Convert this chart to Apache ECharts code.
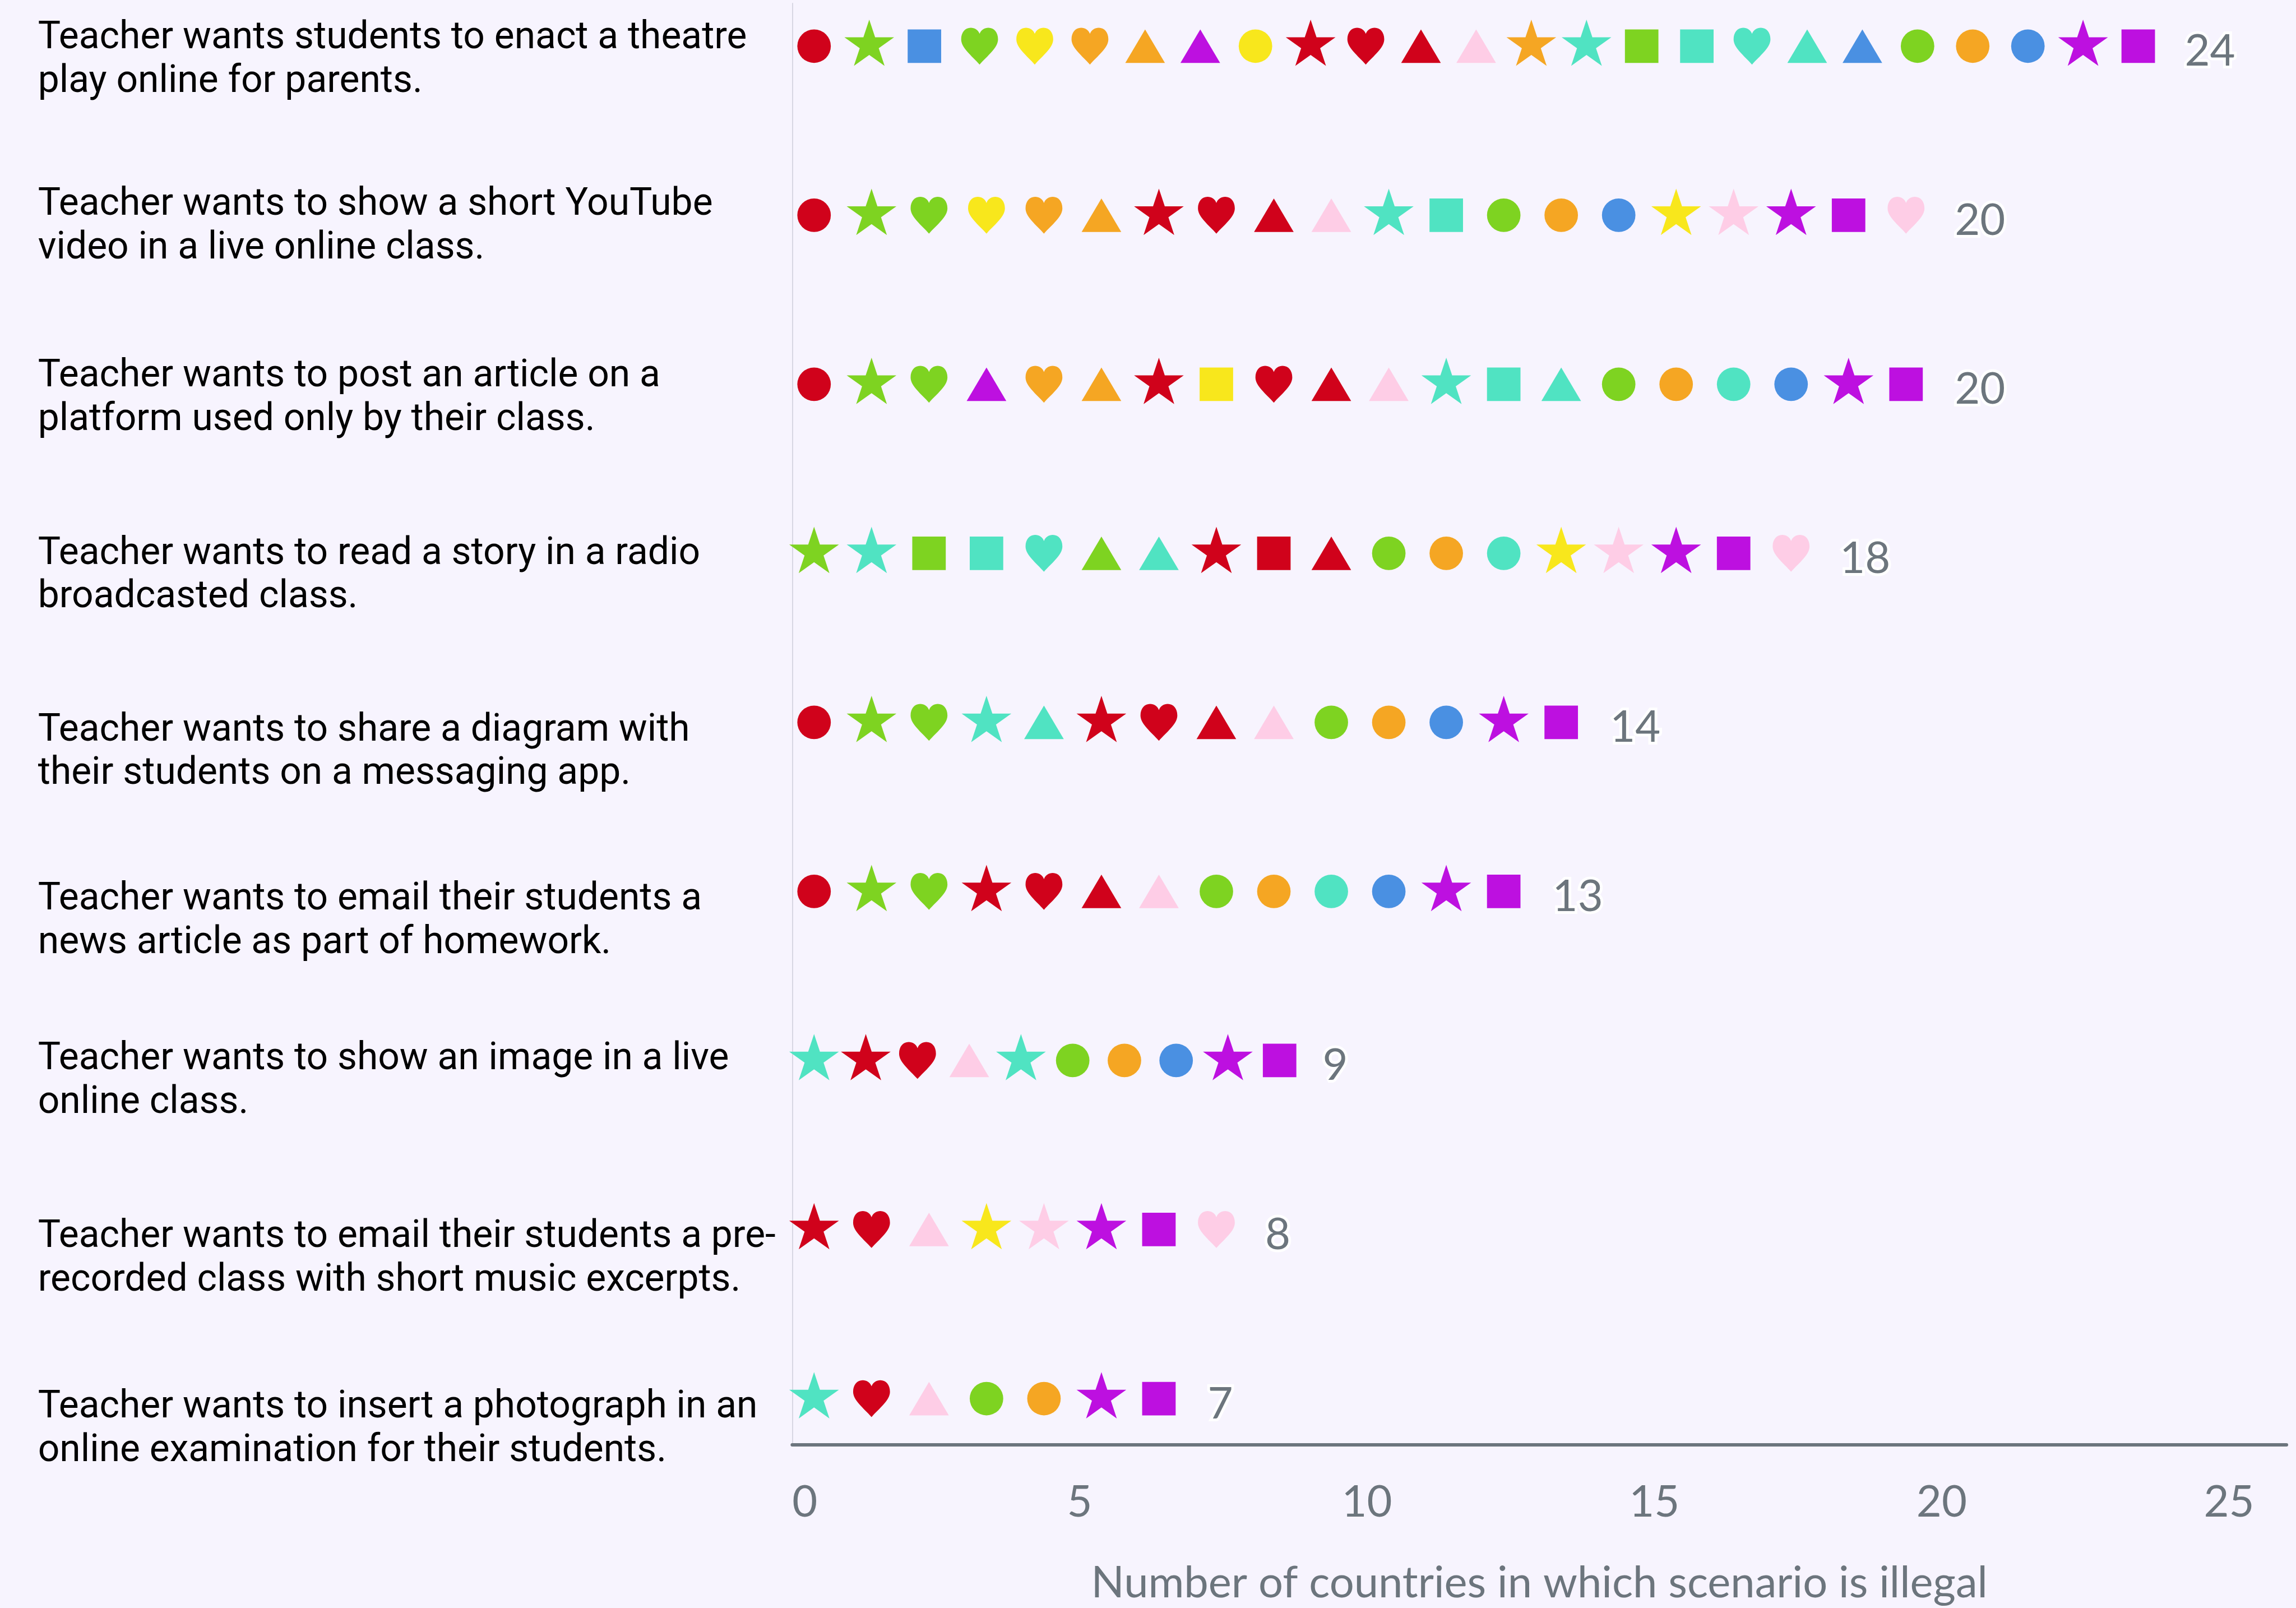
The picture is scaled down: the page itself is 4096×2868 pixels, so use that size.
<!DOCTYPE html>
<html>
<head>
<meta charset="utf-8" />
<title>Scenarios illegal by country</title>
<script src="https://cdn.jsdelivr.net/npm/echarts@6/dist/echarts.min.js"></script>
<style>
html, body { margin: 0; padding: 0; background: #f7f4fe; }
#main { width: 4096px; height: 2868px; }
</style>
</head>
<body>
<div id="main"></div>
<script>
// scenarios, top to bottom
var scenarios = [
	'Teacher wants students to enact a theatre\nplay online for parents.',
	'Teacher wants to show a short YouTube\nvideo in a live online class.',
	'Teacher wants to post an article on a\nplatform used only by their class.',
	'Teacher wants to read a story in a radio\nbroadcasted class.',
	'Teacher wants to share a diagram with\ntheir students on a messaging app.',
	'Teacher wants to email their students a\nnews article as part of homework.',
	'Teacher wants to show an image in a live\nonline class.',
	'Teacher wants to email their students a pre-\nrecorded class with short music excerpts.',
	'Teacher wants to insert a photograph in an\nonline examination for their students.'
];
// number of countries in which the scenario is illegal
var counts = [24, 20, 20, 18, 14, 13, 9, 8, 7];
// countries drawn in each row: colour letter + shape letter
var countries = [
	['Rc','Gs','Bq','Gh','Yh','Oh','Ot','Pt','Yc','Rs','Rh','Rt','Kt','Os','Ts','Gq','Tq','Th','Tt','Bt','Gc','Oc','Bc','Ps','Pq'],
	['Rc','Gs','Gh','Yh','Oh','Ot','Rs','Rh','Rt','Kt','Ts','Tq','Gc','Oc','Bc','Ys','Ks','Ps','Pq','Kh'],
	['Rc','Gs','Gh','Pt','Oh','Ot','Rs','Yq','Rh','Rt','Kt','Ts','Tq','Tt','Gc','Oc','Tc','Bc','Ps','Pq'],
	['Gs','Ts','Gq','Tq','Th','Gt','Tt','Rs','Rq','Rt','Gc','Oc','Tc','Ys','Ks','Ps','Pq','Kh'],
	['Rc','Gs','Gh','Ts','Tt','Rs','Rh','Rt','Kt','Gc','Oc','Bc','Ps','Pq'],
	['Rc','Gs','Gh','Rs','Rh','Rt','Kt','Gc','Oc','Tc','Bc','Ps','Pq'],
	['Ts','Rs','Rh','Kt','Ts','Gc','Oc','Bc','Ps','Pq'],
	['Rs','Rh','Kt','Ys','Ks','Ps','Pq','Kh'],
	['Ts','Rh','Kt','Gc','Oc','Ps','Pq']
];
var xTicks = [0, 5, 10, 15, 20, 25];

var s = 0.996; // reference px -> window px
var grey = '#6c757d';
var colours = {
	R: '#d0021b', G: '#7ed321', B: '#4a90e2', Y: '#f8e71c',
	O: '#f5a623', P: '#bd10e0', K: '#fecde6', T: '#50e3c2'
};
var starPath = 'path://M50,0 L61.23,34.55 L97.55,34.55 L68.16,55.9 L79.39,90.45 L50,69.1 L20.61,90.45 L31.84,55.9 L2.45,34.55 L38.77,34.55 Z';
var heartPath = 'path://M50,18 C46,7 37,2 27,2 C12,2 2,14 2,32 C2,55 30,75 50,98 C70,75 98,55 98,32 C98,14 88,2 73,2 C63,2 54,7 50,18 Z';
var shapes = {
	c: { symbol: 'circle', w: 60, h: 60, dy: 0 },
	q: { symbol: 'rect', w: 60, h: 60, dy: 0 },
	t: { symbol: 'triangle', w: 71, h: 60, dy: 0 },
	s: { symbol: starPath, w: 89, h: 83, dy: -6 },
	h: { symbol: heartPath, w: 66, h: 66, dy: 0 }
};
// small downward shift of each row's text, in rows
var labelNudge = [0.085, 0.07, 0.085, 0.135, 0.18, 0.18, 0.125, 0.175, 0.185];

// icons are spread evenly over 0..count on each row
var points = [];
countries.forEach(function (row, r) {
	var step = counts[r] / row.length;
	row.forEach(function (code, k) {
		var sh = shapes[code.charAt(1)];
		points.push({
			value: [0.38 + k * step, r],
			symbol: sh.symbol,
			symbolSize: [sh.w * s, sh.h * s],
			symbolOffset: [0, sh.dy * s],
			itemStyle: { color: colours[code.charAt(0)], opacity: 1 }
		});
	});
});

var myChart = echarts.init(document.getElementById('main'));
var option = {
	backgroundColor: '#f7f4fe',
	animation: false,
	grid: {
		left: 1419 * s,
		right: 17 * s,
		top: 6 * s,
		bottom: 2868 - 2598 * s
	},
	xAxis: {
		type: 'value',
		min: 0,
		max: 26,
		name: 'Number of countries in which scenario is illegal',
		nameLocation: 'middle',
		nameGap: 209 * s,
		nameTextStyle: { fontFamily: 'Lato', fontSize: 78 * s, color: grey },
		axisLine: { show: true, onZero: false, lineStyle: { color: grey, width: 6 * s } },
		axisTick: { show: false },
		splitLine: { show: false },
		axisLabel: {
			customValues: xTicks,
			alignMinLabel: 'left',
			fontFamily: 'Lato',
			fontSize: 78 * s,
			color: grey,
			margin: 64 * s
		}
	},
	yAxis: {
		type: 'value',
		inverse: true,
		min: -0.253,
		max: 8.273,
		axisLine: { show: true, onZero: false, lineStyle: { color: '#d8d7e3', width: 2 * s } },
		axisTick: { show: false },
		splitLine: { show: false },
		axisLabel: {
			customValues: labelNudge.map(function (d, i) { return i + d; }),
			formatter: function (v) { return scenarios[Math.round(v)]; },
			align: 'left',
			margin: 1351 * s,
			fontFamily: 'Roboto',
			fontSize: 68 * s,
			lineHeight: 78 * s,
			color: '#000'
		}
	},
	series: [
		{
			type: 'scatter',
			data: points,
			silent: true
		},
		{
			type: 'scatter',
			data: counts.map(function (n, r) { return [n, r]; }),
			symbolSize: 1,
			itemStyle: { color: 'rgba(0,0,0,0)', opacity: 1 },
			silent: true,
			label: {
				show: true,
				position: 'right',
				distance: 23 * s,
				offset: [0, 10 * s],
				formatter: function (p) { return p.value[0]; },
				fontFamily: 'Lato',
				fontSize: 78 * s,
				color: grey,
				textBorderColor: '#fff',
				textBorderWidth: 10 * s
			}
		}
	]
};
myChart.setOption(option);
</script>
</body>
</html>
